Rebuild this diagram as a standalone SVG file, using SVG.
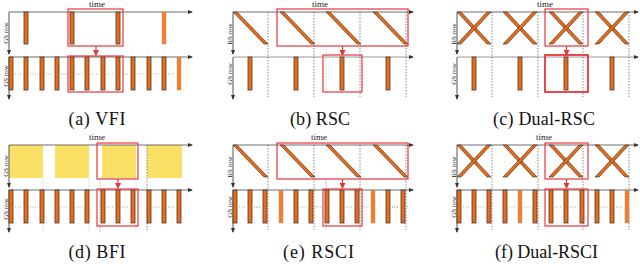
<svg xmlns="http://www.w3.org/2000/svg" xmlns:xlink="http://www.w3.org/1999/xlink" width="640" height="264" viewBox="0 0 640 264">
<style>
.ax{stroke:#6e6e6e;stroke-width:1.2;fill:none}
.ax2{stroke:#9a9a9a;stroke-width:1.1;fill:none}
.bar{fill:#F26A0F;stroke:#3a3a3a;stroke-width:0.8}
.barl{fill:#FF7A1A;stroke:#9a9a9a;stroke-width:0.5}
.dg{fill:#F26A0F;stroke:#3a3a3a;stroke-width:0.7;stroke-linejoin:round}
.red{fill:none;stroke:#E8363C;stroke-width:1.2}
.redb{fill:none;stroke:#E8363C;stroke-width:1.8}
.rarr{stroke:#E8363C;stroke-width:1.2;fill:none}
.vd{stroke:#555;stroke-width:0.7;stroke-dasharray:1.5 1.5;fill:none}
.vl{stroke:#bbb;stroke-width:0.7;stroke-dasharray:1.5 1.5;fill:none}
.hd{stroke:#999;stroke-width:0.8;stroke-dasharray:1 1.5;fill:none}
.yel{fill:#FBE066;stroke:none}
.t{font-family:"Liberation Serif",serif;font-size:9px;fill:#222;text-anchor:middle}
.r{font-family:"Liberation Serif",serif;font-size:7px;fill:#222;text-anchor:middle;dominant-baseline:central}
.cap{font-family:"Liberation Serif",serif;font-size:18px;fill:#111;text-anchor:middle}
</style>
<defs>
<marker id="ah" markerWidth="5" markerHeight="5" refX="4" refY="2.5" orient="auto" markerUnits="userSpaceOnUse">
<path d="M0,0.5 L5,2.5 L0,4.5 z" fill="#333"/>
</marker>
<marker id="rh" markerWidth="6" markerHeight="6" refX="5" refY="3" orient="auto" markerUnits="userSpaceOnUse">
<path d="M0,0 L6,3 L0,6 z" fill="#E8363C"/>
</marker>
</defs>

<!-- (a) VFI -->
<g id="panel-a">
<g id="a-axes">
<line class="ax" x1="9" y1="12" x2="192" y2="12" marker-end="url(#ah)"/>
<line class="ax" x1="9" y1="57" x2="192" y2="57" marker-end="url(#ah)"/>
<line class="ax" x1="9" y1="12" x2="9" y2="54" marker-end="url(#ah)"/>
<line class="ax" x1="9" y1="57" x2="9" y2="99" marker-end="url(#ah)"/>
</g>
<text class="t" x="97" y="7">time</text>
<text class="r" transform="translate(5.5,33) rotate(-90)">GS row</text>
<text class="r" transform="translate(5.5,76) rotate(-90)">GS row</text>
<g id="a-top">
<rect class="bar" x="24" y="12" width="4" height="32"/>
<rect class="bar" x="70" y="12" width="4" height="32"/>
<rect class="bar" x="116" y="12" width="4" height="32"/>
<rect class="barl" x="162" y="12" width="4" height="32"/>
</g>
<g id="a-bottom">
<path class="hd" d="M15,74H22M30,74H38M46,74H53M61,74H68M76,74H83M91,74H99M107,74H114M122,74H129M137,74H145M153,74H160M168,74H175"/>
<rect class="bar" x="9" y="57" width="4" height="33"/>
<rect class="bar" x="24" y="57" width="4" height="33"/>
<rect class="bar" x="40" y="57" width="4" height="33"/>
<rect class="bar" x="55" y="57" width="4" height="33"/>
<rect class="bar" x="70" y="57" width="4" height="33"/>
<rect class="bar" x="85" y="57" width="4" height="33"/>
<rect class="bar" x="101" y="57" width="4" height="33"/>
<rect class="bar" x="116" y="57" width="4" height="33"/>
<rect class="bar" x="131" y="57" width="4" height="33"/>
<rect class="bar" x="147" y="57" width="4" height="33"/>
<rect class="bar" x="162" y="57" width="4" height="33"/>
<rect class="barl" x="177" y="57" width="4" height="33"/>
</g>
<g id="a-links">
<rect class="red" x="68" y="9" width="55" height="37"/>
<rect class="red" x="68" y="56" width="55" height="36"/>
<line class="rarr" x1="96" y1="46" x2="96" y2="55" marker-end="url(#rh)"/>
</g>
<text class="cap" x="97" y="125" textLength="57" lengthAdjust="spacing">(a) VFI</text>
</g>

<!-- (b) RSC -->
<g id="panel-b">
<g id="b-axes">
<line class="ax" x1="233" y1="12" x2="413" y2="12" marker-end="url(#ah)"/>
<line class="ax2" x1="233" y1="57" x2="413" y2="57" marker-end="url(#ah)"/>
<line class="ax" x1="233" y1="12" x2="233" y2="54" marker-end="url(#ah)"/>
<line class="ax" x1="233" y1="57" x2="233" y2="99" marker-end="url(#ah)"/>
</g>
<text class="t" x="320" y="7">time</text>
<text class="r" transform="translate(229.5,34) rotate(-90)">RS row</text>
<text class="r" transform="translate(229.5,74) rotate(-90)">GS row</text>
<g id="b-dotted">
<path class="vd" d="M268,12V97M314,12V97M360,12V97M406,12V97"/>
<path class="vl" d="M326,46V97"/>
</g>
<g id="b-top">
<polygon class="dg" points="233,12 237,12 268,44 264,44"/>
<polygon class="dg" points="280,12 284,12 315,44 311,44"/>
<polygon class="dg" points="326,12 330,12 361,44 357,44"/>
<polygon class="dg" points="373,12 377,12 408,44 404,44"/>
</g>
<g id="b-bottom">
<rect class="bar" x="248" y="57" width="4" height="33"/>
<rect class="bar" x="294" y="57" width="4" height="33"/>
<rect class="bar" x="340" y="57" width="4" height="33"/>
<rect class="bar" x="386" y="57" width="4" height="33"/>
</g>
<g id="b-links">
<rect class="red" x="277" y="9" width="131" height="37"/>
<rect class="red" x="323" y="55" width="39" height="37"/>
<line class="rarr" x1="342.5" y1="46" x2="342.5" y2="55" marker-end="url(#rh)"/>
</g>
<text class="cap" x="320" y="125" textLength="60" lengthAdjust="spacing">(b) RSC</text>
</g>

<!-- (c) Dual-RSC -->
<g id="panel-c">
<g id="c-axes">
<line class="ax" x1="457" y1="12" x2="638" y2="12" marker-end="url(#ah)"/>
<line class="ax2" x1="457" y1="57" x2="638" y2="57" marker-end="url(#ah)"/>
<line class="ax" x1="457" y1="12" x2="457" y2="54" marker-end="url(#ah)"/>
<line class="ax" x1="457" y1="57" x2="457" y2="99" marker-end="url(#ah)"/>
</g>
<text class="t" x="545" y="7">time</text>
<text class="r" transform="translate(453.5,34) rotate(-90)">RS row</text>
<text class="r" transform="translate(453.5,74) rotate(-90)">GS row</text>
<g id="c-dotted">
<path class="vd" d="M492,12V97M538,12V97M583,12V97M629,12V97"/>
</g>
<g id="c-top">
<polygon class="dg" points="457,12 461,12 491,44 487,44"/>
<polygon class="dg" points="487,12 491,12 461,44 457,44"/>
<polygon class="dg" points="503,12 507,12 537,44 533,44"/>
<polygon class="dg" points="533,12 537,12 507,44 503,44"/>
<polygon class="dg" points="549,12 553,12 583,44 579,44"/>
<polygon class="dg" points="579,12 583,12 553,44 549,44"/>
<polygon class="dg" points="595,12 599,12 629,44 625,44"/>
<polygon class="dg" points="625,12 629,12 599,44 595,44"/>
</g>
<g id="c-bottom">
<rect class="bar" x="472" y="57" width="4" height="33"/>
<rect class="bar" x="518" y="57" width="4" height="33"/>
<rect class="bar" x="564" y="57" width="4" height="33"/>
<rect class="bar" x="610" y="57" width="4" height="33"/>
</g>
<g id="c-links">
<rect class="red" x="545" y="9" width="43" height="37"/>
<rect class="redb" x="545" y="55" width="43" height="37"/>
<line class="rarr" x1="566.5" y1="46" x2="566.5" y2="55" marker-end="url(#rh)"/>
</g>
<text class="cap" x="544" y="125" textLength="102" lengthAdjust="spacing">(c) Dual-RSC</text>
</g>

<!-- (d) BFI -->
<g id="panel-d" transform="translate(0,133)">
<g id="d-top">
<rect class="yel" x="9" y="12" width="34" height="33"/>
<rect class="yel" x="55" y="12" width="34" height="33"/>
<rect class="yel" x="102" y="12" width="34" height="33"/>
<rect class="yel" x="147" y="12" width="35" height="33"/>
</g>
<g id="d-axes">
<line class="ax" x1="9" y1="12" x2="192" y2="12" marker-end="url(#ah)"/>
<line class="ax" x1="9" y1="57" x2="192" y2="57" marker-end="url(#ah)"/>
<line class="ax" x1="9" y1="12" x2="9" y2="54" marker-end="url(#ah)"/>
<line class="ax" x1="9" y1="57" x2="9" y2="99" marker-end="url(#ah)"/>
</g>
<text class="t" x="97" y="7">time</text>
<text class="r" transform="translate(5.5,33) rotate(-90)">GS row</text>
<text class="r" transform="translate(5.5,76) rotate(-90)">GS row</text>
<g id="d-dotted">
<path class="vl" d="M43,46V56M43,91V99M89,46V56M89,91V99M136,46V56M136,91V99"/>
<path class="vd" d="M100,46V99" style="stroke:#999"/>
<path class="vd" d="M147,12V99"/>
</g>
<g id="d-bottom">
<path class="hd" d="M15,74H22M30,74H38M61,74H68M76,74H83M107,74H114M122,74H129M153,74H160M168,74H175"/>
<rect class="bar" x="9" y="57" width="4" height="33"/>
<rect class="bar" x="24" y="57" width="4" height="33"/>
<rect class="bar" x="40" y="57" width="4" height="33"/>
<rect class="bar" x="55" y="57" width="4" height="33"/>
<rect class="bar" x="70" y="57" width="4" height="33"/>
<rect class="bar" x="85" y="57" width="4" height="33"/>
<rect class="bar" x="101" y="57" width="4" height="33"/>
<rect class="bar" x="116" y="57" width="4" height="33"/>
<rect class="bar" x="131" y="57" width="4" height="33"/>
<rect class="bar" x="147" y="57" width="4" height="33"/>
<rect class="bar" x="162" y="57" width="4" height="33"/>
<rect class="bar" x="177" y="57" width="4" height="33"/>
</g>
<g id="d-links">
<rect class="red" x="97" y="10" width="41" height="36"/>
<rect class="red" x="97" y="56" width="41" height="37"/>
<line class="rarr" x1="118" y1="46" x2="118" y2="55" marker-end="url(#rh)"/>
</g>
<text class="cap" x="97" y="125" textLength="57" lengthAdjust="spacing">(d) BFI</text>
</g>

<!-- (e) RSCI -->
<g id="panel-e" transform="translate(0,133)">
<g id="e-axes">
<line class="ax" x1="233" y1="12" x2="413" y2="12" marker-end="url(#ah)"/>
<line class="ax" x1="233" y1="57" x2="413" y2="57" marker-end="url(#ah)"/>
<line class="ax" x1="233" y1="12" x2="233" y2="54" marker-end="url(#ah)"/>
<line class="ax" x1="233" y1="57" x2="233" y2="99" marker-end="url(#ah)"/>
</g>
<text class="t" x="319" y="7">time</text>
<text class="r" transform="translate(229.5,34) rotate(-90)">RS row</text>
<text class="r" transform="translate(229.5,74) rotate(-90)">GS row</text>
<g id="e-dotted">
<path class="vd" d="M268,12V97M314,12V97M360,12V97M406,12V97"/>
<path class="vd" d="M326,46V97" style="stroke:#888"/>
</g>
<g id="e-top">
<polygon class="dg" points="233,12 237,12 268,44 264,44"/>
<polygon class="dg" points="280,12 284,12 315,44 311,44"/>
<polygon class="dg" points="326,12 330,12 361,44 357,44"/>
<polygon class="dg" points="373,12 377,12 408,44 404,44"/>
</g>
<g id="e-bottom">
<path class="hd" d="M239,74H246M254,74H261M300,74H307M315,74H323M346,74H353M361,74H369M392,74H399M407,74H410"/>
<path class="hd" d="M254,74H261M392,74H399"/>
<rect class="bar" x="233" y="57" width="4" height="33"/>
<rect class="bar" x="248" y="57" width="4" height="33"/>
<rect class="bar" x="263" y="57" width="4" height="33"/>
<rect class="barl" x="279" y="57" width="4" height="33"/>
<rect class="bar" x="294" y="57" width="4" height="33"/>
<rect class="bar" x="309" y="57" width="4" height="33"/>
<rect class="bar" x="325" y="57" width="4" height="33"/>
<rect class="bar" x="340" y="57" width="4" height="33"/>
<rect class="bar" x="355" y="57" width="4" height="33"/>
<rect class="barl" x="371" y="57" width="4" height="33"/>
<rect class="bar" x="386" y="57" width="4" height="33"/>
<rect class="bar" x="401" y="57" width="4" height="33"/>
</g>
<g id="e-links">
<rect class="red" x="277" y="10" width="131" height="36"/>
<rect class="red" x="323" y="56" width="39" height="37"/>
<line class="rarr" x1="342.5" y1="46" x2="342.5" y2="55" marker-end="url(#rh)"/>
</g>
<text class="cap" x="318.5" y="125" textLength="71" lengthAdjust="spacing">(e) RSCI</text>
</g>

<!-- (f) Dual-RSCI -->
<g id="panel-f" transform="translate(0,133)">
<g id="f-axes">
<line class="ax" x1="457" y1="12" x2="638" y2="12" marker-end="url(#ah)"/>
<line class="ax" x1="457" y1="57" x2="638" y2="57" marker-end="url(#ah)"/>
<line class="ax" x1="457" y1="12" x2="457" y2="54" marker-end="url(#ah)"/>
<line class="ax" x1="457" y1="57" x2="457" y2="99" marker-end="url(#ah)"/>
</g>
<text class="t" x="544" y="7">time</text>
<text class="r" transform="translate(453.5,34) rotate(-90)">RS row</text>
<text class="r" transform="translate(453.5,74) rotate(-90)">GS row</text>
<g id="f-dotted">
<path class="vd" d="M492,12V97M538,12V97M583,12V97M629,12V97"/>
</g>
<g id="f-top">
<polygon class="dg" points="457,12 461,12 491,44 487,44"/>
<polygon class="dg" points="487,12 491,12 461,44 457,44"/>
<polygon class="dg" points="503,12 507,12 537,44 533,44"/>
<polygon class="dg" points="533,12 537,12 507,44 503,44"/>
<polygon class="dg" points="549,12 553,12 583,44 579,44"/>
<polygon class="dg" points="579,12 583,12 553,44 549,44"/>
<polygon class="dg" points="595,12 599,12 629,44 625,44"/>
<polygon class="dg" points="625,12 629,12 599,44 595,44"/>
</g>
<g id="f-bottom">
<path class="hd" d="M463,74H470M478,74H485M509,74H516M524,74H531M555,74H562M570,74H578M601,74H608M616,74H623"/>
<rect class="bar" x="457" y="57" width="4" height="33"/>
<rect class="bar" x="472" y="57" width="4" height="33"/>
<rect class="bar" x="487" y="57" width="4" height="33"/>
<rect class="bar" x="503" y="57" width="4" height="33"/>
<rect class="barl" x="518" y="57" width="4" height="33"/>
<rect class="bar" x="533" y="57" width="4" height="33"/>
<rect class="bar" x="549" y="57" width="4" height="33"/>
<rect class="bar" x="564" y="57" width="4" height="33"/>
<rect class="bar" x="580" y="57" width="4" height="33"/>
<rect class="bar" x="595" y="57" width="4" height="33"/>
<rect class="bar" x="610" y="57" width="4" height="33"/>
<rect class="barl" x="625" y="57" width="4" height="33"/>
</g>
<g id="f-links">
<rect class="red" x="545" y="10" width="43" height="36"/>
<rect class="red" x="545" y="56" width="43" height="37"/>
<line class="rarr" x1="566.5" y1="46" x2="566.5" y2="55" marker-end="url(#rh)"/>
</g>
<text class="cap" x="546.5" y="125" textLength="103" lengthAdjust="spacing">(f) Dual-RSCI</text>
</g>
</svg>
